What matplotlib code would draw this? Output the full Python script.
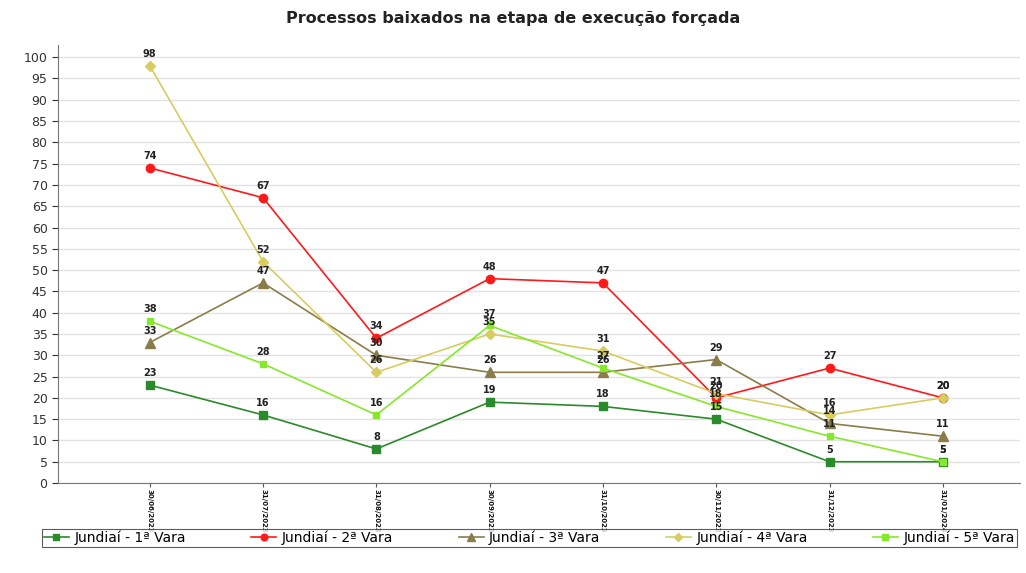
import matplotlib
matplotlib.use("Agg")
import matplotlib.pyplot as plt

dates = ["30/06/2023", "31/07/2023", "31/08/2023", "30/09/2023",
         "31/10/2023", "30/11/2023", "31/12/2023", "31/01/2024"]
vara1 = [23, 16, 8, 19, 18, 15, 5, 5]
vara2 = [74, 67, 34, 48, 47, 20, 27, 20]
vara3 = [33, 47, 30, 26, 26, 29, 14, 11]
vara4 = [98, 52, 26, 35, 31, 21, 16, 20]
vara5 = [38, 28, 16, 37, 27, 18, 11, 5]
labels = ["Jundiaí - 1ª Vara", "Jundiaí - 2ª Vara", "Jundiaí - 3ª Vara",
          "Jundiaí - 4ª Vara", "Jundiaí - 5ª Vara"]
title = "Processos baixados na etapa de execução forçada"

series = [vara1, vara2, vara3, vara4, vara5]
colors = ["#2b8a2b", "#ff1a1a", "#8a7d4a", "#d8cc60", "#86e82a"]
markers = ["s", "o", "^", "D", "s"]
msizes = [6, 6, 7, 5, 5]

fig = plt.figure(figsize=(10.26, 5.73), dpi=100)
ax = fig.add_axes([0.0565, 0.157, 0.9375, 0.764])

x = list(range(len(dates)))
for vals, c, m, ms, lab in zip(series, colors, markers, msizes, labels):
    ax.plot(x, vals, color=c, marker=m, markersize=ms, linewidth=1.2,
            label=lab, zorder=3)
    for xi, v in zip(x, vals):
        ax.annotate(str(v), (xi, v), xytext=(0, 5), textcoords="offset points",
                    ha="center", va="bottom", fontsize=7, fontweight="bold",
                    color="#222222", zorder=4)

ax.set_xlim(-0.81, 7.68)
ax.set_ylim(0, 102.8)
ax.set_yticks(range(0, 101, 5))
ax.set_xticks(x)
ax.set_xticklabels(dates, rotation=270, fontsize=5.0, color="#111111",
                   fontweight="bold")
ax.tick_params(axis="y", labelsize=9, colors="#333333", length=4)
ax.tick_params(axis="x", length=3, colors="#555555", pad=1.5)
for t in ax.get_xticklabels():
    t.set_color("#111111")
ax.yaxis.grid(True, color="#e2e2e2", linewidth=1.0)
ax.set_axisbelow(True)
for s in ["top", "right"]:
    ax.spines[s].set_visible(False)
for s in ["left", "bottom"]:
    ax.spines[s].set_color("#777777")

fig.text(0.5, 0.967, title, ha="center", va="center", fontsize=11.5,
         fontweight="bold", family="DejaVu Sans", color="#222222")

leg = fig.legend(loc="center", bbox_to_anchor=(0.516, 0.061), ncol=5,
                 fontsize=10, frameon=True, fancybox=False, edgecolor="#333333",
                 handlelength=1.8, columnspacing=4.7, handletextpad=0.4,
                 borderpad=0.15, markerscale=0.8)
leg.get_frame().set_linewidth(0.8)

fig.savefig("out.png", dpi=100)
